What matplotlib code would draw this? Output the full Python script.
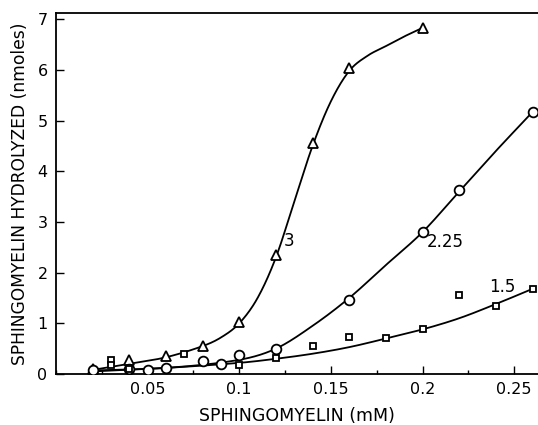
import numpy as np
import matplotlib
matplotlib.use("Agg")
import matplotlib.pyplot as plt
from matplotlib.ticker import MultipleLocator

# ---- data ----
tri_x = [0.02, 0.04, 0.06, 0.08, 0.10, 0.12, 0.14, 0.16, 0.20]
tri_y = [0.10, 0.27, 0.35, 0.55, 1.02, 2.34, 4.55, 6.04, 6.83]

cir_x = [0.02, 0.04, 0.05, 0.06, 0.08, 0.09, 0.10, 0.12, 0.16, 0.20, 0.22, 0.26]
cir_y = [0.07, 0.10, 0.07, 0.12, 0.25, 0.20, 0.37, 0.50, 1.47, 2.80, 3.63, 5.17]

sq_x = [0.03, 0.03, 0.04, 0.07, 0.10, 0.12, 0.14, 0.16, 0.18, 0.20, 0.22, 0.24, 0.26]
sq_y = [0.27, 0.17, 0.09, 0.39, 0.18, 0.32, 0.55, 0.73, 0.71, 0.88, 1.55, 1.34, 1.68]

# fitted curves (knots)
fit3_x = [0.02, 0.04, 0.06, 0.08, 0.09, 0.10, 0.11, 0.12, 0.13, 0.14, 0.15, 0.16, 0.17, 0.18, 0.19, 0.20]
fit3_y = [0.08, 0.20, 0.33, 0.55, 0.72, 1.00, 1.50, 2.30, 3.40, 4.50, 5.38, 5.98, 6.28, 6.47, 6.66, 6.83]

fit225_x = [0.02, 0.06, 0.10, 0.12, 0.14, 0.16, 0.18, 0.20, 0.22, 0.24, 0.26]
fit225_y = [0.07, 0.12, 0.28, 0.50, 0.95, 1.50, 2.15, 2.80, 3.60, 4.40, 5.17]

fit15_x = [0.02, 0.06, 0.10, 0.12, 0.14, 0.16, 0.18, 0.20, 0.22, 0.24, 0.26]
fit15_y = [0.05, 0.12, 0.22, 0.30, 0.40, 0.53, 0.70, 0.88, 1.10, 1.38, 1.68]

curve_labels = ["3", "2.25", "1.5"]
label_pos_x = [0.127, 0.2125, 0.2436]
label_pos_y = [2.62, 2.60, 1.72]

xticks = [0.05, 0.10, 0.15, 0.20, 0.25]
xtick_labels = ["0.05", "0.1", "0.15", "0.2", "0.25"]
yticks = [0, 1, 2, 3, 4, 5, 6, 7]


def smooth(x, y, xs):
    """Catmull-Rom style cubic Hermite curve through the knots."""
    x = np.asarray(x, float)
    y = np.asarray(y, float)
    n = len(x)
    h = np.diff(x)
    m = np.zeros(n)
    m[1:-1] = (y[2:] - y[:-2]) / (x[2:] - x[:-2])
    m[0] = (y[1] - y[0]) / h[0]
    m[-1] = (y[-1] - y[-2]) / h[-1]
    idx = np.clip(np.searchsorted(x, xs) - 1, 0, n - 2)
    t = (xs - x[idx]) / h[idx]
    h00 = 2 * t**3 - 3 * t**2 + 1
    h10 = t**3 - 2 * t**2 + t
    h01 = -2 * t**3 + 3 * t**2
    h11 = t**3 - t**2
    return h00 * y[idx] + h10 * h[idx] * m[idx] + h01 * y[idx + 1] + h11 * h[idx] * m[idx + 1]


plt.rcParams['font.family'] = ['DejaVu Sans']

fig = plt.figure(figsize=(5.38, 4.25), dpi=100)
ax = fig.add_axes([0.104, 0.12, 0.896, 0.849])

for fx, fy in [(fit3_x, fit3_y), (fit225_x, fit225_y), (fit15_x, fit15_y)]:
    xs = np.linspace(fx[0], fx[-1], 400)
    ax.plot(xs, smooth(fx, fy, xs), color="black", lw=1.3, zorder=2)

ax.plot(tri_x, tri_y, ls="none", marker="^", ms=6.5, mfc="white", mec="black", mew=1.3, zorder=3)
ax.plot(cir_x, cir_y, ls="none", marker="o", ms=7, mfc="white", mec="black", mew=1.3, zorder=3)
ax.plot(sq_x, sq_y, ls="none", marker="s", ms=5, mfc="white", mec="black", mew=1.3, zorder=3)

for t, lx, ly in zip(curve_labels, label_pos_x, label_pos_y):
    ax.text(lx, ly, t, fontsize=12, ha="center", va="center")

ax.set_xlim(0, 0.263)
ax.set_ylim(0, 7.12)
ax.set_xticks(xticks)
ax.set_xticklabels(xtick_labels)
ax.xaxis.set_minor_locator(MultipleLocator(0.025))
ax.set_yticks(yticks)
ax.tick_params(axis="both", which="major", direction="in", length=6, width=1.0, labelsize=11.5, pad=6)
ax.tick_params(axis="x", which="minor", direction="in", length=3, width=1.0)
ax.spines["right"].set_visible(False)
for s in ["left", "bottom", "top"]:
    ax.spines[s].set_linewidth(1.3)

ax.set_xlabel("SPHINGOMYELIN (mM)", fontsize=12.5, labelpad=7)
ax.set_ylabel("SPHINGOMYELIN HYDROLYZED (nmoles)", fontsize=12.3, labelpad=6)

fig.savefig("out.png", dpi=100)
